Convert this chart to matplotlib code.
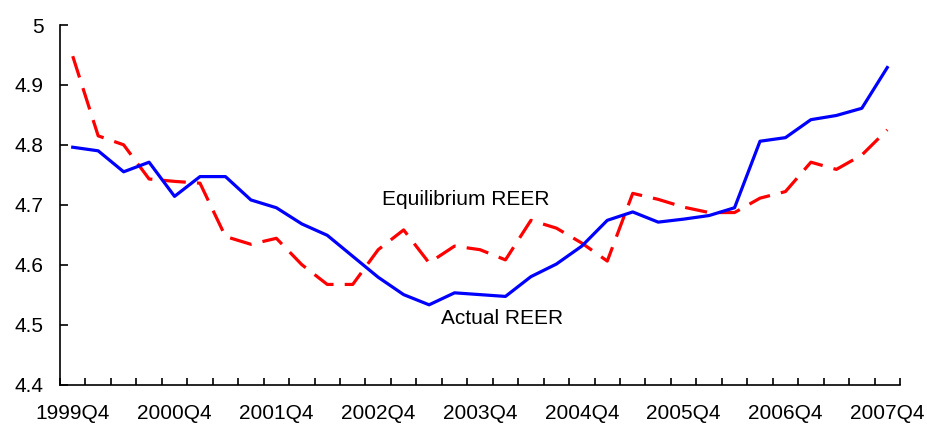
import numpy as np
import matplotlib
matplotlib.use("Agg")
import matplotlib.pyplot as plt
from matplotlib.ticker import FixedLocator

plt.rcParams['font.family'] = ['Liberation Sans', 'DejaVu Sans']

quarters = [f"{y}Q{q}" for y in range(1999, 2008) for q in range(1, 5)][3:]
tick_labels = [q if q.endswith("Q4") else "" for q in quarters]

actual_reer = [4.796, 4.790, 4.755, 4.771, 4.714, 4.747, 4.747, 4.708, 4.695, 4.668,
               4.649, 4.614, 4.579, 4.550, 4.533, 4.553, 4.550, 4.547, 4.580, 4.601,
               4.631, 4.674, 4.688, 4.671, 4.676, 4.682, 4.695, 4.806, 4.812, 4.842,
               4.849, 4.861, 4.929]
equilibrium_reer = [4.948, 4.815, 4.800, 4.743, 4.739, 4.736, 4.647, 4.634, 4.644, 4.600,
                    4.567, 4.567, 4.625, 4.658, 4.603, 4.631, 4.625, 4.608, 4.674, 4.661,
                    4.636, 4.606, 4.719, 4.709, 4.696, 4.687, 4.687, 4.711, 4.722, 4.771,
                    4.759, 4.783, 4.825]

x = np.arange(len(quarters))

fig = plt.figure(figsize=(9.27, 4.24), dpi=100)
ax = fig.add_axes([60/927, 1 - 384.5/424, 840/927, 359.5/424])

ax.plot(x, equilibrium_reer, color='#ff0000', lw=2.3, dashes=(7, 3.5))
ax.plot(x, actual_reer, color='#0000ff', lw=2.3)

ax.text(15.45, 4.708, "Equilibrium REER", fontsize=15, ha='center', va='center')
ax.text(16.87, 4.51, "Actual REER", fontsize=15, ha='center', va='center')

ax.set_xlim(-0.5, len(quarters) - 0.5)
ax.set_ylim(4.4, 5.0)
ax.set_yticks(np.arange(4.4, 5.01, 0.1))
ax.set_yticklabels(["4.4", "4.5", "4.6", "4.7", "4.8", "4.9", "5"])

major = [i for i, q in enumerate(quarters) if q.endswith("Q4")]
ax.set_xticks(major)
ax.set_xticklabels([tick_labels[i] for i in major])
ax.xaxis.set_minor_locator(FixedLocator(np.arange(-0.5, len(quarters), 1.0)))
ax.tick_params(axis='x', which='major', length=0, pad=14, labelsize=15)
ax.tick_params(axis='x', which='minor', direction='in', length=5, width=1.2)
ax.tick_params(axis='y', direction='in', length=6, width=1.2, pad=12, labelsize=15)

for s in ['top', 'right']:
    ax.spines[s].set_visible(False)
for s in ['left', 'bottom']:
    ax.spines[s].set_linewidth(1.2)

fig.savefig("out.png", dpi=100)
